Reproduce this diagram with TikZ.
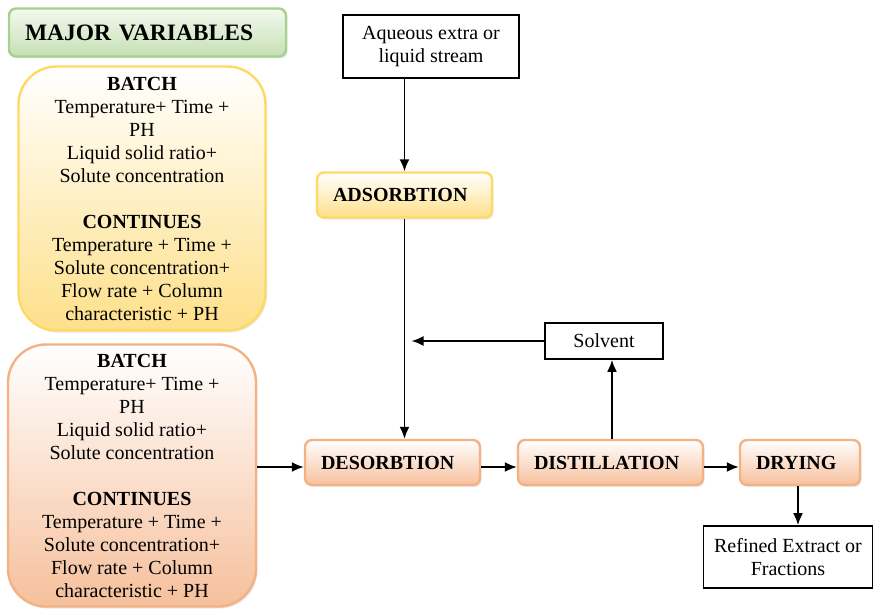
\documentclass[tikz,border=0pt]{standalone}
\usepackage{fontspec}
\setmainfont{Liberation Serif}
\usetikzlibrary{arrows.meta,shadows}

\definecolor{greenedge}{HTML}{A9D18E}
\definecolor{greentop}{HTML}{F3F9EF}
\definecolor{greenbot}{HTML}{C5E0B4}
\definecolor{yellowedge}{HTML}{FFD966}
\definecolor{yellowbot}{HTML}{FEE08A}
\definecolor{orangeedge}{HTML}{F4B183}
\definecolor{orangebot}{HTML}{F6C09C}

\begin{document}
\begin{tikzpicture}[x=1pt,y=-1pt,font=\fontsize{20}{23}\selectfont]
\tikzstyle{shade}=[drop shadow={shadow xshift=1.5pt,shadow yshift=-2pt,opacity=0.18}]
\tikzstyle{title}=[rectangle, rounded corners=7pt, line width=2.4pt, draw=greenedge, top color=greentop, bottom color=greenbot, shade, minimum height=48pt, text width=245pt, inner xsep=16pt, align=left, font=\fontsize{23.5}{26}\selectfont\bfseries]
\tikzstyle{panel}=[rectangle, rounded corners=38pt, line width=2.4pt, shade, align=center, inner sep=0pt]
\tikzstyle{stage}=[rectangle, rounded corners=7pt, line width=2.4pt, shade, minimum height=45pt, inner xsep=16pt, align=left, font=\fontsize{20}{23}\selectfont\bfseries]
\tikzstyle{plain}=[rectangle, draw=black, line width=1.8pt, align=center]
\tikzstyle{connect}=[-{Latex[length=12pt,width=10pt]}, line width=1.8pt]
\useasboundingbox (0,0) rectangle (873,610);

  % variables on the left
  \node[title] (major) at (147.5,32.5) {MAJOR VARIABLES};
  \node[panel, draw=yellowedge, top color=white, bottom color=yellowbot,
        minimum width=247pt, minimum height=264pt] (batchA) at (142,198.5)
    {\textbf{BATCH}\\Temperature+ Time +\\PH\\Liquid solid ratio+\\Solute concentration\\[23pt]
     \textbf{CONTINUES}\\Temperature + Time +\\Solute concentration+\\Flow rate + Column\\characteristic + PH};
  \node[panel, draw=orangeedge, top color=white, bottom color=orangebot,
        minimum width=248pt, minimum height=262pt] (batchB) at (132,475.5)
    {\textbf{BATCH}\\Temperature+ Time +\\PH\\Liquid solid ratio+\\Solute concentration\\[23pt]
     \textbf{CONTINUES}\\Temperature + Time +\\Solute concentration+\\Flow rate + Column\\characteristic + PH};

  % process chain
  \node[plain, minimum width=176pt, minimum height=63pt] (aqueous) at (431,46.5) {Aqueous extra or\\liquid stream};
  \node[stage, draw=yellowedge, top color=white, bottom color=yellowbot, text width=143pt] (adsorb) at (404.5,195) {ADSORBTION};
  \node[stage, draw=orangeedge, top color=white, bottom color=orangebot, text width=143pt] (desorb) at (392.5,462.5) {DESORBTION};
  \node[stage, draw=orangeedge, top color=white, bottom color=orangebot, text width=153pt] (distil) at (610.5,462.5) {DISTILLATION};
  \node[stage, draw=orangeedge, top color=white, bottom color=orangebot, text width=88pt] (dry) at (800,462.5) {DRYING};
  \node[plain, minimum width=118pt, minimum height=36pt] (solvent) at (604,341) {Solvent};
  \node[plain, minimum width=169pt, minimum height=62pt] (refined) at (788,557) {Refined Extract or\\Fractions};

  \coordinate (feed) at ([xshift=7pt]adsorb.south |- solvent.west);
  \coordinate (inA) at ([yshift=-4.5pt]desorb.west);
  \coordinate (inB) at ([yshift=-4.5pt]distil.west);
  \coordinate (inC) at ([yshift=-4.5pt]dry.west);

  \draw[connect] (adsorb.north |- aqueous.south) -- (adsorb.north);
  \draw[connect] (adsorb.south) -- (adsorb.south |- desorb.north);
  \draw[connect] (solvent.west) -- (feed);
  \draw[connect] (batchB.east |- inA) -- (inA);
  \draw[connect] (desorb.east |- inB) -- (inB);
  \draw[connect] (distil.east |- inC) -- (inC);
  \draw[connect] ([xshift=1.5pt]distil.north) -- ([xshift=1.5pt]distil.north |- solvent.south);
  \draw[connect] ([xshift=-2pt]dry.south) -- ([xshift=-2pt]dry.south |- refined.north);
\end{tikzpicture}
\end{document}
